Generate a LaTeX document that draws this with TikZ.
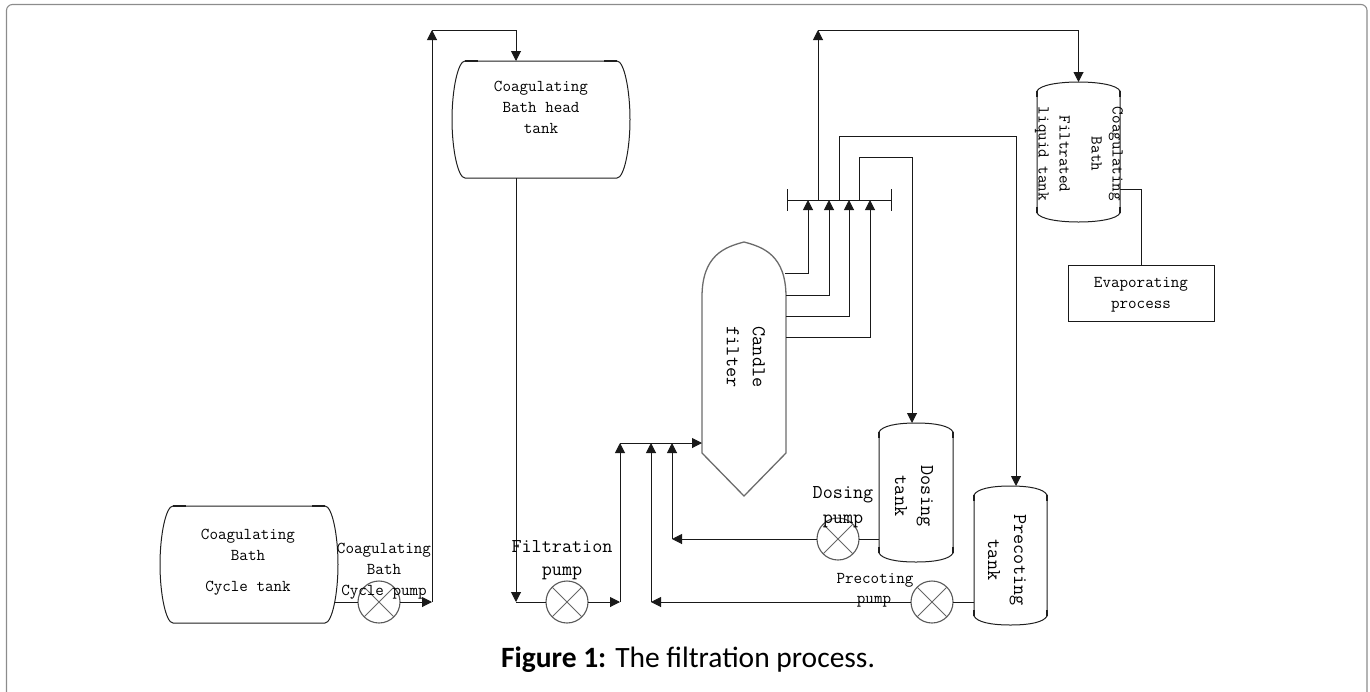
\documentclass[tikz,border=0pt]{standalone}
\usepackage{fontspec}
\usetikzlibrary{arrows.meta,calc}
\newfontfamily\capfont{Carlito}
\newcommand{\lblA}{\fontsize{16.6}{21}\selectfont\ttfamily}
\newcommand{\lblB}{\fontsize{19.6}{26}\selectfont\ttfamily}
% horizontal tank: name, centre, width, height
\newcommand{\htank}[4]{%
  \node[tankbox,minimum width=#3pt,minimum height=#4pt] (#1) at (#2) {};
  \draw[tankline] ($(#1.north west)+(13,0)$) -- ($(#1.north east)+(-13,0)$)
    .. controls +(7,0) and ($(#1.east)+(0,-30)$) .. (#1.east)
    .. controls ($(#1.east)+(0,30)$) and ($(#1.south east)+(-6,0)$) .. ($(#1.south east)+(-13,0)$)
    -- ($(#1.south west)+(13,0)$)
    .. controls +(-7,0) and ($(#1.west)+(0,30)$) .. (#1.west)
    .. controls ($(#1.west)+(0,-30)$) and ($(#1.north west)+(6,0)$) .. ($(#1.north west)+(13,0)$) -- cycle;
  \draw[tankline,line width=1.6pt] ($(#1.north west)+(13,0)$) -- +(13,0);
  \draw[tankline,line width=1.6pt] ($(#1.north east)+(-13,0)$) -- +(-13,0);
}
% vertical tank: name, centre, width, height
\newcommand{\vtank}[4]{%
  \node[tankbox,minimum width=#3pt,minimum height=#4pt] (#1) at (#2) {};
  \draw[tankline] ($(#1.north west)+(0,9)$)
    .. controls +(3,-6) and ($(#1.north)+(-20,0)$) .. (#1.north)
    .. controls ($(#1.north)+(20,0)$) and ($(#1.north east)+(-3,3)$) .. ($(#1.north east)+(0,9)$)
    -- ($(#1.south east)+(0,-9)$)
    .. controls +(-3,6) and ($(#1.south)+(20,0)$) .. (#1.south)
    .. controls ($(#1.south)+(-20,0)$) and ($(#1.south west)+(3,-3)$) .. ($(#1.south west)+(0,-9)$) -- cycle;
  \draw[tankline,line width=1.6pt] ($(#1.north west)+(0,9)$) -- +(0,6);
  \draw[tankline,line width=1.6pt] ($(#1.north east)+(0,9)$) -- +(0,6);
  \draw[tankline,line width=1.6pt] ($(#1.south west)+(0,-9)$) -- +(0,-6);
  \draw[tankline,line width=1.6pt] ($(#1.south east)+(0,-9)$) -- +(0,-6);
}
\newcommand{\pumpat}[2]{%
  \node[pumpc] (#1) at (#2) {};
  \draw[pumpl] (#1.45) -- (#1.225) (#1.135) -- (#1.315);
}
\tikzset{
  x=1pt,y=-1pt,
  tankbox/.style={rectangle,draw=none,inner sep=0pt,outer sep=0pt},
  tankline/.style={draw=black!88,line width=1pt},
  pumpc/.style={circle,draw=black!65,line width=1.1pt,minimum size=42pt,inner sep=0pt,outer sep=0pt},
  pumpl/.style={draw=black!60,line width=0.9pt},
  pipe/.style={draw=black!90,line width=1pt},
  flow/.style={pipe,-{Triangle[length=10pt,width=10pt]}},
  txta/.style={inner sep=0pt,align=center,font=\lblA,text=black},
  txtb/.style={inner sep=0pt,align=center,font=\lblB,text=black},
  boxn/.style={rectangle,draw=black!90,line width=1pt,inner sep=0pt,outer sep=0pt},
}
\begin{document}
\begin{tikzpicture}
\useasboundingbox (0,0) rectangle (1370,691);
\draw[black!45,line width=1.1pt,rounded corners=6pt] (6.5,700) -- (6.5,4.5) -- (1367,4.5) -- (1367,700);

% tanks
\htank{cyc}{249,564.5}{178}{117}
\htank{head}{541,119.5}{178}{117}
\vtank{filt}{1078.5,152}{83}{140}
\vtank{dose}{916,492.5}{74}{139}
\vtank{prec}{1010.5,555.5}{73}{139}

% candle filter
\node[tankbox,minimum width=84pt,minimum height=254pt] (cand) at (744,369) {};
\draw[draw=black!58,line width=1.3pt]
  (cand.north) .. controls (725,247) and (702,255) .. (702,297)
  -- (702,453) -- (cand.south) -- (786,453) -- (786,297)
  .. controls (786,255) and (763,247) .. (cand.north) -- cycle;

% pumps
\pumpat{pa}{379,602}
\pumpat{pb}{567,602}
\pumpat{pc}{838,539}
\pumpat{pd}{932,602}

% evaporating box
\node[boxn,minimum width=146pt,minimum height=56pt] (evap) at (1141,293) {};

% manifold and junctions
\coordinate (ml) at (787,200);
\coordinate (mr) at (891,200);
\draw[pipe] (ml) -- (mr);
\draw[pipe] (787,189) -- (787,211) (891,189) -- (891,211);
\coordinate (m1) at (808,200);
\coordinate (m2) at (829,200);
\coordinate (m3) at (849,200);
\coordinate (m4) at (870,200);
\coordinate (o1) at (818,200);
\coordinate (o2) at (839,200);
\coordinate (o3) at (859,200);
\coordinate (top1) at (818,30);
\coordinate (top2) at (432,30);
\coordinate (j0) at (620,443);
\coordinate (j1) at (651,443);
\coordinate (j2) at (672,443);
\coordinate (jr) at (620,602);
\coordinate (jc) at (432,602);
\coordinate (jh) at (516,602);
\coordinate (jd) at (672,539);
\coordinate (jp) at (651,602);
\coordinate (s1) at (785,273);
\coordinate (s2) at (786,295);
\coordinate (s3) at (786,316);
\coordinate (s4) at (786,337);

% connectors
\draw[pipe] (335,602) -- (pa.west);
\draw[flow] (pa.east) -- (jc);
\draw[flow] (jc) -- (top2);
\draw[flow] (top2) -| (head.north -| jh);
\draw[flow] (head.south -| jh) -- (jh);
\draw[pipe] (jh) -- (pb.west);
\draw[flow] (pb.east) -- (jr);
\draw[flow] (jr) -- (j0);
\draw[flow] (j0) -- (cand.west |- j0);
\draw[flow] (jp) -- (j1);
\draw[flow] (jd) -- (j2);
\draw[flow] (pc.west) -- (jd);
\draw[pipe] (pc.east) -- (dose.west |- pc);
\draw[flow] (pd.west) -- (jp);
\draw[pipe] (pd.east) -- (prec.west |- pd);
\draw[flow] (s1) -| (m1);
\draw[flow] (s2) -| (m2);
\draw[flow] (s3) -| (m3);
\draw[flow] (s4) -| (m4);
\draw[flow] (o1) -- (top1);
\draw[flow] (top1) -| (filt.north);
\draw[flow] (o2) |- (1016,136) -- (1016,486);
\draw[flow] (o3) |- (912,157) -- (912,423);
\draw[pipe] (filt.east |- 0,189) -| (evap.north);

% labels
\node[txta] (t1) at (248,562) {Coagulating\\Bath\\[10pt]Cycle tank};
\node[txta] (t2) at (384,571) {Coagulating\\Bath\\Cycle pump};
\node[txta] (t3) at (541,107) {Coagulating\\Bath head\\tank};
\node[txtb] (t4) at (562,547) {Filtration};
\node[txtb] (t5) at (562,573) {pump};
\node[txtb] (t6) at (843,495) {Dosing};
\node[txtb] (t7) at (843,521) {pump};
\node[txta] (t8) at (875,580) {Precoting};
\node[txta] (t9) at (874,602) {pump};
\node[txta] (t10) at (1141,295) {Evaporating\\process};
\node[txtb,rotate=-90] (t11) at (746,357) {Candle\\filter};
\node[txtb,rotate=-90] (t12) at (914,496) {Dosing\\tank};
\node[txtb,rotate=-90] (t13) at (1007,560) {Precoting\\tank};
\node[txta,rotate=-90] (t14) at (1079,154) {Coagulating\\Bath\\[11pt]Filtrated\\liquid tank};

% caption
\node[inner sep=0pt,font=\fontsize{29.5}{32}\selectfont\capfont] (cap) at (688,660) {\textbf{Figure 1:} The filtration process.};
\end{tikzpicture}
\end{document}
